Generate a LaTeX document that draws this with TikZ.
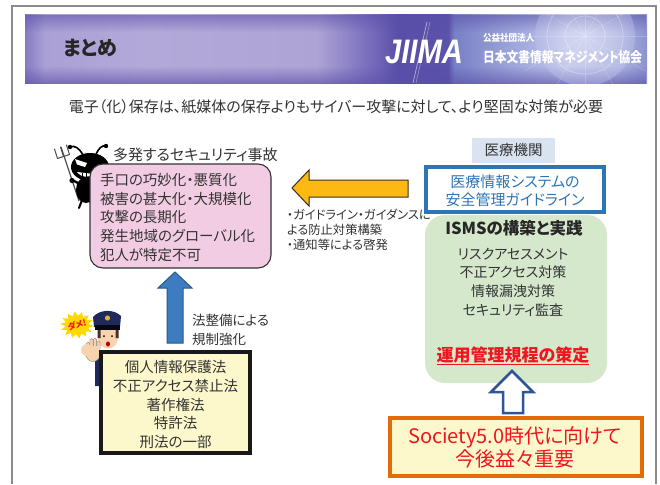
\documentclass[tikz,border=0pt]{standalone}
\usepackage{fontspec}
\setmainfont{Noto Sans CJK JP}[RawFeature=+palt]
\newfontfamily\latinfont{Liberation Sans}
\usetikzlibrary{fadings,shapes.geometric}

% banner colours
\definecolor{bnA}{HTML}{857BC2}
\definecolor{bnB}{HTML}{AAA0D5}
\definecolor{bnC}{HTML}{B3A9D9}
\definecolor{bnD}{HTML}{ADA3D5}
\definecolor{bnE}{HTML}{7A6FBE}
\definecolor{bnF}{HTML}{5A4FA8}
\definecolor{bnG}{HTML}{5B52AB}
\definecolor{bnH}{HTML}{7880C6}
\definecolor{bnI}{HTML}{A0A8DC}
\definecolor{bnJ}{HTML}{BFC4EA}
\definecolor{bnK}{HTML}{AEB4E2}
\definecolor{bnL}{HTML}{8A92D0}
% page colours
\definecolor{framegray}{HTML}{8C8C8C}
\definecolor{textgray}{HTML}{333333}
\definecolor{pinkfill}{HTML}{F2CCE2}
\definecolor{creamfill}{HTML}{FDF8CC}
\definecolor{arrowblue}{HTML}{3E7CC0}
\definecolor{arrowblueline}{HTML}{2A5A90}
\definecolor{gold}{HTML}{FCB813}
\definecolor{goldline}{HTML}{3A3020}
\definecolor{tagfill}{HTML}{DAE3F0}
\definecolor{guideblue}{HTML}{2E75B6}
\definecolor{greenfill}{HTML}{D5E8CC}
\definecolor{alertred}{HTML}{F0141E}
\definecolor{hollowblue}{HTML}{2F5597}
\definecolor{orangeline}{HTML}{E36C0A}
\definecolor{navy}{HTML}{1F2A5A}
\definecolor{skin}{HTML}{F8D3B0}
\definecolor{hair}{HTML}{4A3020}
\definecolor{burst}{HTML}{FFD800}
\definecolor{badge}{HTML}{E0B030}

\pgfdeclarehorizontalshading{bannerfill}{100bp}{color(0bp)=(bnA); color(25bp)=(bnA);
  color(26.6bp)=(bnB); color(35bp)=(bnC); color(48.5bp)=(bnD); color(52.5bp)=(bnE);
  color(55bp)=(bnF); color(59bp)=(bnG); color(59.5bp)=(bnH); color(64.5bp)=(bnI);
  color(68.5bp)=(bnJ); color(72.75bp)=(bnK); color(75bp)=(bnL); color(100bp)=(bnL)}
\tikzfading[name=topfade, top color=transparent!45, bottom color=transparent!100]
\tikzfading[name=bottomfade, top color=transparent!100, bottom color=transparent!35]

\begin{document}
\begin{tikzpicture}[x=1pt,y=-1pt,
  every node/.style={inner sep=0pt, outer sep=0pt},
  body/.style={text=textgray, font=\fontsize{14.5}{18.8}\selectfont},
  blockarrow/.style={line width=1pt, line join=miter},
  frameline/.style={draw=framegray, line width=1.4pt}]

\useasboundingbox (0,0) rectangle (660,484);
\fill[white] (0,0) rectangle (660,484);

% slide frame (open at the bottom)
\draw[frameline] (12,484) -- (12,6) -- (656,6) -- (656,484);

% ---------- header banner ----------
\shade[shading=bannerfill] (25,15) rectangle (647,84);
\fill[bnF, path fading=topfade] (25,15) rectangle (647,32);
\fill[bnF, path fading=bottomfade] (25,66) rectangle (647,84);
\begin{scope}
  \clip (455,15) rectangle (647,84);
  \shade[inner color=white, outer color=bnJ, opacity=0.4] (585,36) circle (50);
  \draw[white, opacity=0.3, line width=0.8pt] (585,36) circle (20) (585,36) circle (38);
  \foreach \a in {0,30,...,330}
    \draw[white, opacity=0.2, line width=0.6pt] (585,36) -- ++(\a:70);
\end{scope}
\node[anchor=west, font=\fontsize{20}{24}\selectfont\bfseries, text=black!85] (title) at (63,48) {まとめ};
% association logo
\draw[white, opacity=0.55, line width=0.7pt] (427,22) -- (413,83);
\draw[white, opacity=0.35, line width=0.7pt] (430,22) -- (416,83);
\node[font=\latinfont\bfseries\itshape\fontsize{34}{34}\selectfont, text=white, xscale=0.86] (logo) at (424,52) {JIIMA};
\node[anchor=west, font=\fontsize{9.5}{11}\selectfont\bfseries, text=white, xscale=0.9] (assoc1) at (483,38) {公益社団法人};
\node[anchor=west, font=\fontsize{14}{16}\selectfont\bfseries, text=white, xscale=0.84] (assoc2) at (483,57.5) {日本文書情報マネジメント協会};

% lead sentence
\node[text=textgray, font=\fontsize{15}{17}\selectfont] (lead) at (336,107) {電子（化）保存は、紙媒体の保存よりもサイバー攻撃に対して、より堅固な対策が必要};

% ---------- devil ant ----------
\draw[black!70, line width=1.2pt] (61,147) -- (79,201);
\draw[black!70, line width=1pt, line cap=round] (57.5,158.5) -- (69.5,154.5)
  (57.5,158.5) -- (54.5,149) (63.5,156.5) -- (60.5,147) (69.5,154.5) -- (66.5,145);
\draw[black, line width=1.6pt] (83,155) .. controls (79,148) and (75,145) .. (70,147);
\fill[black] (70,147) circle (2.2);
\draw[black, line width=1.6pt] (96,154) .. controls (99,148) and (102,145) .. (106,146);
\fill[black] (106,146) circle (2.2);
\fill[black] (86,190) ellipse [x radius=10, y radius=13];
\draw[black, line width=2.4pt, line cap=round] (80,184) -- (72,180);
\fill[black] (72,180.5) circle (2.6);
\draw[black, line width=2pt, line cap=round] (82,200) -- (79,208) (90,200) -- (92,208);
\fill[black] (90,167) ellipse [x radius=19, y radius=14];
\fill[white] (75,159) -- (87,163) -- (85,167) -- (77,164.5) -- cycle;
\fill[white] (77,172) .. controls (82,178) and (88,178) .. (94,174) -- cycle;
\draw[black, line width=0.5pt] (82,173) -- (82,176) (86,173) -- (86,176.5) (90,173) -- (90,176);

% ---------- incidents ----------
\node[anchor=west, text=textgray, font=\fontsize{15}{17}\selectfont] (incTitle) at (113,155) {多発するセキュリティ事故};
\node[draw=textgray, line width=1.1pt, fill=pinkfill, rounded corners=13pt,
  minimum width=181pt, minimum height=104pt, anchor=north west] (incidents) at (90,164) {};
\node[body, anchor=west, align=left] (incList) at (100,217.5) {手口の巧妙化・悪質化\\被害の甚大化・大規模化\\攻撃の長期化\\発生地域のグローバル化\\犯人が特定不可};

% law arrow (up, filled)
\filldraw[blockarrow, fill=arrowblue, draw=arrowblueline]
  (175,272) -- (192,288) -- (183,288) -- (183,343) -- (167,343) -- (167,288) -- (158,288) -- cycle;
\node[anchor=west, align=left, text=textgray, font=\fontsize{13.5}{19}\selectfont] (lawNote) at (192,329.5) {法整備による\\規制強化};

% ---------- police officer ----------
\node[star, star points=14, star point ratio=1.45, fill=burst, minimum size=27pt, xscale=1.25, rotate=8] (stopBurst) at (77,325) {};
\node[rotate=14, text=alertred, font=\fontsize{8.5}{9}\selectfont\bfseries] (stopWord) at (77,325) {ダメ!};
\fill[navy] (95,350) -- (121,350) -- (126,386) -- (95,386) -- cycle;
\fill[white] (104,348) -- (113,348) -- (108.5,357) -- cycle;
\fill[skin] (108,338) ellipse [x radius=10, y radius=10.5];
\fill[hair] (97.5,328) rectangle (100.5,338) (115.5,328) rectangle (118.5,338);
\fill[black] (104,336) circle (1) (112,336) circle (1);
\fill[red!75!black] (108,344) ellipse [x radius=2, y radius=2.6];
\fill[navy] (94,327) -- (93,317) .. controls (100,309) and (114,309) .. (121,316) -- (120,327) -- cycle;
\fill[black!80!navy] (95,325) rectangle (120,330);
\fill[badge] (107.5,318) circle (2.6);
\begin{scope}[draw=hair!60, line width=0.4pt, fill=skin]
  \filldraw (93,353) ellipse [x radius=7.5, y radius=8.5];
  \filldraw[rounded corners=1.5pt] (86.4,352) rectangle (89.6,342);
  \filldraw[rounded corners=1.5pt] (89.9,349) rectangle (93.1,338.5);
  \filldraw[rounded corners=1.5pt] (93.4,349) rectangle (96.6,338);
  \filldraw[rounded corners=1.5pt] (96.9,350) rectangle (100.1,341);
  \fill (87,350) ellipse [x radius=6, y radius=6];
  \fill (89,346) rectangle (100,356);
\end{scope}

% ---------- laws ----------
\node[draw=black!90, line width=3.2pt, fill=creamfill, minimum width=149pt, minimum height=101pt, anchor=north west] (laws) at (101,352) {};
\node[body, align=center] (lawList) at (175.5,404.5) {個人情報保護法\\不正アクセス禁止法\\著作権法\\特許法\\刑法の一部};

% ---------- guideline arrow (left, filled) ----------
\filldraw[blockarrow, fill=gold, draw=goldline]
  (292,188) -- (309,170) -- (309,180) -- (408,180) -- (408,197) -- (309,197) -- (309,206) -- cycle;
\node[anchor=north west, align=left, text=textgray, font=\fontsize{12.3}{15}\selectfont] (guideNote) at (287,209.5) {・ガイドライン・ガイダンスに\\よる防止対策構築\\・通知等による啓発};

% ---------- medical institutions ----------
\node[fill=tagfill, minimum width=83pt, minimum height=25pt, text=textgray, font=\fontsize{14.5}{16}\selectfont] (medTag) at (513.5,150.5) {医療機関};
\node[fill=greenfill, rounded corners=20pt, minimum width=182pt, minimum height=168pt, anchor=north west] (isms) at (425,215) {};
\node[draw=guideblue, line width=3.2pt, fill=white, minimum width=178pt, minimum height=45pt, anchor=north west] (guideline) at (426,167) {};
\node[align=center, text=guideblue, font=\fontsize{15}{18}\selectfont] (guideText) at (515,191) {医療情報システムの\\安全管理ガイドライン};
\node[text=black!85, font=\fontsize{16.5}{18}\selectfont\bfseries] (ismsTitle) at (514,228) {ISMSの構築と実践};
\node[body, align=center, font=\fontsize{14}{18.7}\selectfont] (ismsList) at (513,282) {リスクアセスメント\\不正アクセス対策\\情報漏洩対策\\セキュリティ監査};
\node[text=alertred, font=\fontsize{17}{18}\selectfont\bfseries] (rules) at (513,355) {運用管理規程の策定};
\draw[alertred, line width=1.3pt] ([yshift=-1.2pt]rules.south west) -- ([yshift=-1.2pt]rules.south east);

% hollow arrow up
\filldraw[line width=2.5pt, line join=miter, fill=white, draw=hollowblue]
  (512,371) -- (533,392) -- (523,392) -- (523,413) -- (503,413) -- (503,392) -- (491,392) -- cycle;

% ---------- outlook ----------
\node[draw=orangeline, line width=3.2pt, fill=creamfill, minimum width=252pt, minimum height=58pt, anchor=north west] (outlook) at (390,418) {};
\node[align=center, text=alertred, font=\fontsize{20}{21.5}\selectfont] (outlookText) at (515,447.5) {Society5.0時代に向けて\\今後益々重要};

\end{tikzpicture}
\end{document}
